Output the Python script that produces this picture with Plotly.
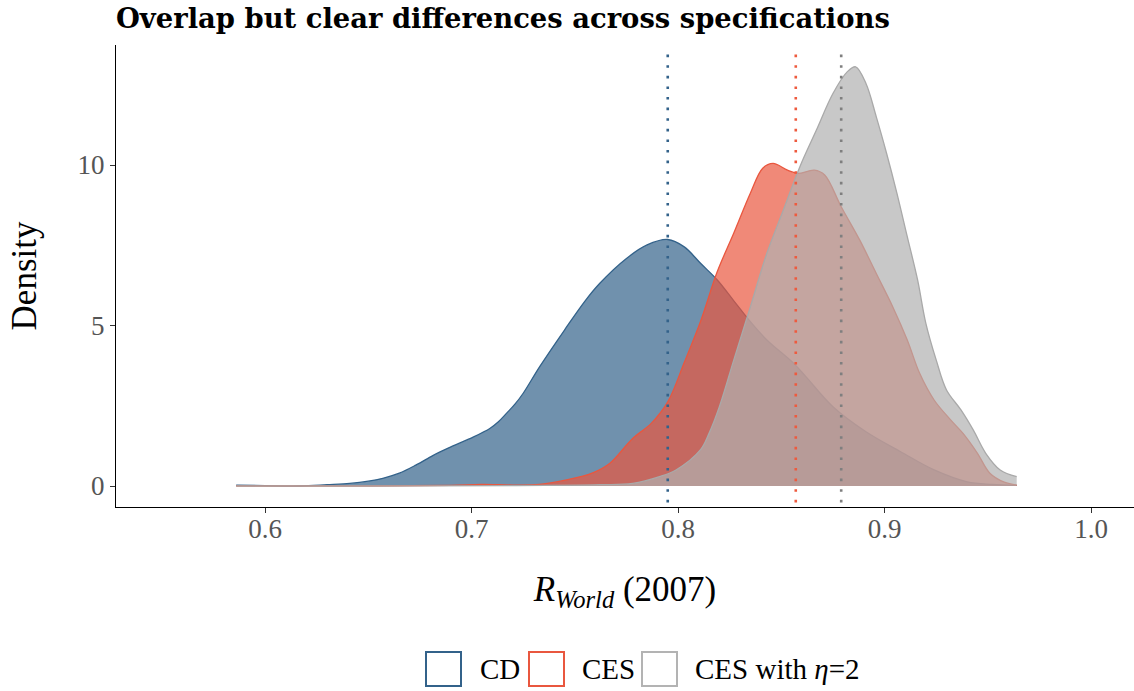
import plotly.graph_objects as go

# ── Data ─────────────────────────────────────────────────────────────────────
labels = ["CD", "CES", "CES with <i>η</i>=2"]

cd_x = [0.586, 0.600, 0.617, 0.630, 0.641, 0.650, 0.657, 0.665, 0.673, 0.681,
        0.685, 0.690, 0.701, 0.709, 0.713, 0.717, 0.721, 0.725, 0.733, 0.745,
        0.755, 0.762, 0.775, 0.785, 0.795, 0.803, 0.811, 0.819, 0.827, 0.835,
        0.843, 0.856, 0.862, 0.875, 0.891, 0.908, 0.924, 0.940, 0.952, 0.964]
cd_y = [0.03, 0.01, 0.00, 0.04, 0.08, 0.15, 0.24, 0.40, 0.65, 0.94,
        1.07, 1.22, 1.53, 1.80, 2.00, 2.27, 2.55, 2.89, 3.72, 4.86,
        5.77, 6.31, 7.09, 7.51, 7.68, 7.45, 6.93, 6.42, 5.77, 5.12,
        4.55, 3.82, 3.40, 2.47, 1.69, 1.06, 0.50, 0.13, 0.05, 0.02]

ces_x = [0.586, 0.650, 0.690, 0.705, 0.720, 0.733, 0.746, 0.759, 0.767, 0.778,
         0.787, 0.795, 0.803, 0.811, 0.819, 0.827, 0.835, 0.841, 0.846, 0.853,
         0.858, 0.866, 0.871, 0.879, 0.888, 0.896, 0.904, 0.911, 0.917, 0.924,
         0.932, 0.938, 0.945, 0.951, 0.958, 0.964]
ces_y = [0.00, 0.00, 0.02, 0.05, 0.03, 0.05, 0.19, 0.42, 0.71, 1.48,
         1.95, 2.62, 3.85, 5.15, 6.68, 7.88, 9.12, 9.90, 10.05, 9.84,
         9.74, 9.84, 9.69, 8.70, 7.66, 6.62, 5.58, 4.55, 3.51, 2.68,
         2.06, 1.64, 1.02, 0.40, 0.12, 0.03]

ces2_x = [0.586, 0.650, 0.720, 0.762, 0.778, 0.791, 0.799, 0.811, 0.815, 0.820,
          0.827, 0.835, 0.843, 0.851, 0.859, 0.867, 0.875, 0.882, 0.886, 0.891,
          0.896, 0.901, 0.906, 0.911, 0.916, 0.920, 0.925, 0.930, 0.937, 0.943,
          0.949, 0.956, 0.964]
ces2_y = [0.00, 0.00, 0.01, 0.04, 0.08, 0.29, 0.50, 1.14, 1.64, 2.47,
          3.93, 5.58, 7.25, 8.60, 9.95, 11.09, 12.23, 12.91, 13.06, 12.54,
          11.50, 10.36, 9.12, 7.77, 6.42, 5.07, 3.93, 2.99, 2.37, 1.74,
          1.02, 0.50, 0.29]

means = [0.795, 0.857, 0.879]

x_ticks = [0.6, 0.7, 0.8, 0.9, 1.0]
x_tick_text = ["0.6", "0.7", "0.8", "0.9", "1.0"]
y_ticks = [0, 5, 10]

# ── Style ────────────────────────────────────────────────────────────────────
LINE = ["#33628A", "#E9573F", "#A9A9A9"]
FILL = ["rgba(51,98,138,0.7)", "rgba(233,87,63,0.7)", "rgba(176,176,176,0.7)"]
VLINE = ["#33628A", "#EE5A3E", "#7F7F7F"]
LEG = ["#33628A", "#E9573F", "#B3B3B3"]
SERIF = "Liberation Serif, Times New Roman, serif"

W, H = 1134, 691
ML, MR, MT, MB = 116, 0, 45, 184
PW, PH = W - ML - MR, H - MT - MB


def px(xp):
    return (xp - ML) / PW


def py(yp):
    return (H - MB - yp) / PH


fig = go.Figure()
for xs, ys, lc, fc in zip([cd_x, ces_x, ces2_x], [cd_y, ces_y, ces2_y], LINE, FILL):
    fig.add_trace(go.Scatter(
        x=xs, y=ys, mode="lines",
        line=dict(color=lc, width=1.3, shape="spline", smoothing=1.0),
        fill="tozeroy", fillcolor=fc,
        showlegend=False, hoverinfo="skip",
    ))

for m, c in zip(means, VLINE):
    fig.add_shape(type="line", x0=m, x1=m, xref="x", y0=0.01, y1=0.99, yref="paper",
                  line=dict(color=c, width=2.6, dash="2.6px,8px"))

# ── Manual legend (hollow squares) ──────────────────────────────────────────
leg_sq = [426, 529, 642]
leg_tx = [478, 580, 693]
for sx, tx, c, lab in zip(leg_sq, leg_tx, LEG, labels):
    fig.add_shape(type="rect", xref="paper", yref="paper",
                  x0=px(sx), x1=px(sx + 35), y0=py(652), y1=py(686),
                  line=dict(color=c, width=2), fillcolor="white")
    fig.add_annotation(text=lab, xref="paper", yref="paper", x=px(tx), y=py(669),
                       xanchor="left", yanchor="middle", showarrow=False,
                       font=dict(family=SERIF, size=29, color="black"))

fig.update_layout(
    width=W, height=H,
    margin=dict(l=ML, r=MR, t=MT, b=MB),
    paper_bgcolor="white", plot_bgcolor="white",
    font=dict(family=SERIF, color="black"),
    title=dict(text="<b>Overlap but clear differences across specifications</b>",
               x=0, xref="paper", xanchor="left",
               y=1 - 18 / H, yref="container", yanchor="middle",
               font=dict(family="DejaVu Serif, serif", size=27.4, color="black")),
    xaxis=dict(range=[0.5278, 1.0208], tickvals=x_ticks, ticktext=x_tick_text,
               showgrid=False, zeroline=False, showline=True, linecolor="black",
               linewidth=1.3, ticks="outside", ticklen=5, tickcolor="#333333",
               tickwidth=1.1, ticklabelstandoff=-8,
               tickfont=dict(family=SERIF, size=27, color="#555555"),
               title=dict(text="<i>R</i><sub><i>World</i></sub> (2007)", standoff=33,
                          font=dict(family=SERIF, size=35, color="black"))),
    yaxis=dict(range=[-0.654, 13.74], tickvals=y_ticks,
               showgrid=False, zeroline=False, showline=True, linecolor="black",
               linewidth=1.3, ticks="outside", ticklen=5, tickcolor="#333333",
               tickwidth=1.1, tickfont=dict(family=SERIF, size=27, color="#555555"),
               title=dict(text="Density", standoff=30,
                          font=dict(family=SERIF, size=35, color="black"))),
)

fig.write_html("out.html", config={"displayModeBar": False},
               post_script="document.body.style.margin='0';")
